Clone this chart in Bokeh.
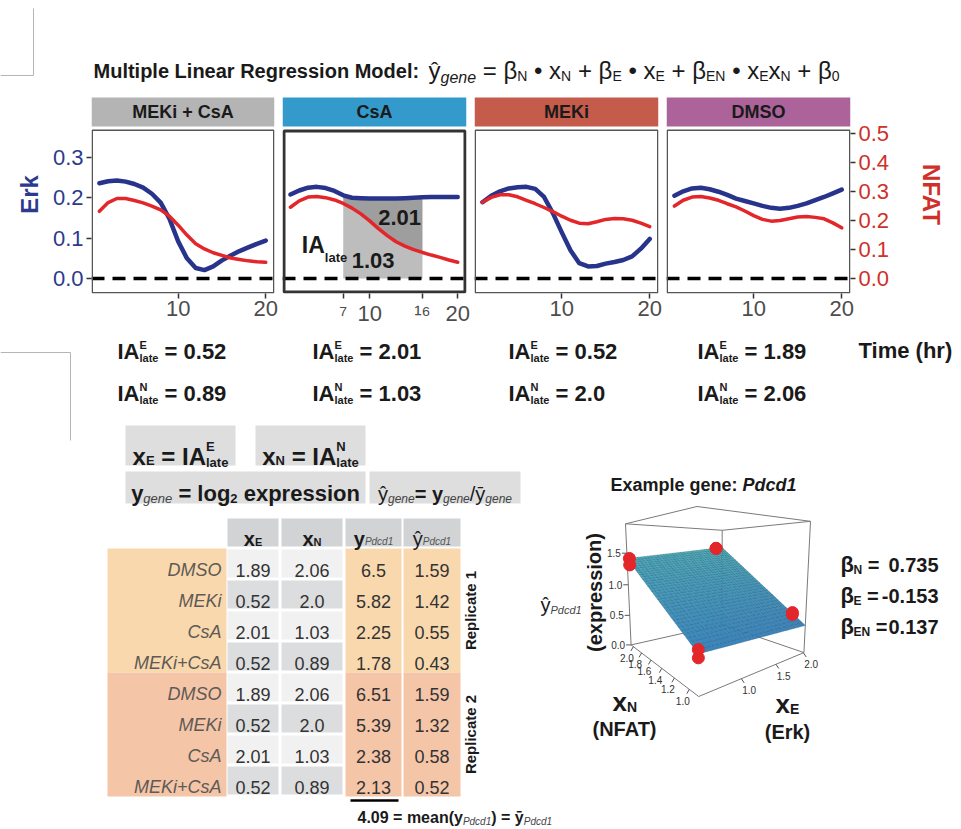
import string
import numpy as np
from bokeh.plotting import figure
from bokeh.models import (Range1d, LinearAxis, FixedTicker, PrintfTickFormatter,
                          ColumnDataSource)
from bokeh.layouts import column, row
from bokeh.embed import file_html
from bokeh.resources import INLINE
from bokeh.core.properties import value

FONT = "Liberation Sans"

# ---------------------------------------------------------------- data
CONDITIONS = ["MEKi + CsA", "CsA", "MEKi", "DMSO"]
STRIP_COLORS = ["#B4B4B4", "#3499CB", "#C55B4B", "#AB6399"]
HOURS = list(range(1, 21))
ERK_MEKI_CSA = [0.236, 0.241, 0.243, 0.240, 0.234, 0.225, 0.210, 0.188, 0.148, 0.092,
                0.050, 0.026, 0.021, 0.030, 0.045, 0.057, 0.068, 0.077, 0.086, 0.094]
NFAT_MEKI_CSA = [0.232, 0.262, 0.276, 0.276, 0.269, 0.261, 0.250, 0.237, 0.215, 0.184,
                 0.150, 0.120, 0.102, 0.089, 0.080, 0.071, 0.066, 0.061, 0.058, 0.056]
ERK_CSA = [0.208, 0.218, 0.225, 0.227, 0.224, 0.217, 0.206, 0.200, 0.199, 0.198,
           0.198, 0.198, 0.198, 0.199, 0.200, 0.201, 0.202, 0.202, 0.202, 0.202]
NFAT_CSA = [0.246, 0.268, 0.281, 0.283, 0.279, 0.271, 0.259, 0.243, 0.223, 0.199,
            0.172, 0.148, 0.127, 0.112, 0.100, 0.090, 0.081, 0.073, 0.064, 0.056]
ERK_MEKI = [0.189, 0.205, 0.216, 0.223, 0.226, 0.227, 0.222, 0.202, 0.162, 0.115,
            0.070, 0.038, 0.030, 0.031, 0.037, 0.041, 0.046, 0.055, 0.074, 0.098]
NFAT_MEKI = [0.263, 0.280, 0.289, 0.289, 0.282, 0.270, 0.258, 0.245, 0.231, 0.215,
             0.201, 0.191, 0.189, 0.196, 0.204, 0.207, 0.206, 0.201, 0.191, 0.179]
ERK_DMSO = [0.205, 0.216, 0.223, 0.225, 0.221, 0.215, 0.207, 0.198, 0.192, 0.186,
            0.180, 0.175, 0.173, 0.175, 0.180, 0.186, 0.194, 0.202, 0.211, 0.220]
NFAT_DMSO = [0.250, 0.270, 0.281, 0.283, 0.278, 0.270, 0.258, 0.247, 0.233, 0.217,
             0.204, 0.198, 0.200, 0.206, 0.212, 0.214, 0.211, 0.206, 0.192, 0.175]
ERK_SERIES = [ERK_MEKI_CSA, ERK_CSA, ERK_MEKI, ERK_DMSO]
NFAT_SERIES = [NFAT_MEKI_CSA, NFAT_CSA, NFAT_MEKI, NFAT_DMSO]
IA_E_LABELS = ["0.52", "2.01", "0.52", "1.89"]
IA_N_LABELS = ["0.89", "1.03", "2.0", "2.06"]
LATE_WINDOW = (7, 16)
LATE_WINDOW_LABELS = {7: "⁷", 16: "¹⁶"}   # small raised tick labels
HIGHLIGHT_PANEL = 1
ERK_TICKS = [0.0, 0.1, 0.2, 0.3]
NFAT_TICKS = [0.0, 0.1, 0.2, 0.3, 0.4, 0.5]
TIME_TICKS = [10, 20]
NFAT_PER_ERK = 1.393  # secondary axis scale

TABLE_CONDITIONS = ["DMSO", "MEKi", "CsA", "MEKi+CsA", "DMSO", "MEKi", "CsA", "MEKi+CsA"]
TABLE_XE = ["1.89", "0.52", "2.01", "0.52", "1.89", "0.52", "2.01", "0.52"]
TABLE_XN = ["2.06", "2.0", "1.03", "0.89", "2.06", "2.0", "1.03", "0.89"]
TABLE_Y = ["6.5", "5.82", "2.25", "1.78", "6.51", "5.39", "2.38", "2.13"]
TABLE_YHAT = ["1.59", "1.42", "0.55", "0.43", "1.59", "1.32", "0.58", "0.52"]
MEAN_Y = "4.09"
REPLICATES = ["Replicate 1", "Replicate 2"]

BETA_N, BETA_E, BETA_EN = 0.735, -0.153, 0.137
BETA_0 = -0.165  # estimated intercept (not printed in the figure)
BETA_LABELS = ["0.735", "-0.153", "0.137"]
XN_TICKS_3D = [1.0, 1.2, 1.4, 1.6, 1.8, 2.0]
XE_TICKS_3D = [1.0, 1.5, 2.0]
Z_TICKS_3D = [0.0, 0.5, 1.0, 1.5]
Z_LIM = (0.0, 1.95)

# ---------------------------------------------------------------- text metrics
def _mk(upper, lower, extra):
    d = {}
    for c, w in zip(string.ascii_uppercase, upper):
        d[c] = w
    for c, w in zip(string.ascii_lowercase, lower):
        d[c] = w
    for c in "0123456789":
        d[c] = 556
    d.update(extra)
    return d

W_REG = _mk([667, 667, 722, 722, 667, 611, 778, 722, 278, 500, 667, 556, 833, 722, 778, 667, 778, 722, 667, 611, 722, 667, 944, 667, 667, 611],
            [556, 556, 500, 556, 556, 278, 556, 556, 222, 222, 500, 222, 833, 556, 556, 556, 556, 333, 500, 278, 556, 500, 722, 500, 500, 500],
            {" ": 278, "(": 333, ")": 333, "+": 584, "-": 333, ".": 278, "/": 278, ":": 278, "=": 584,
             "β": 576, "ŷ": 500, "ȳ": 500, "•": 350})
W_BOLD = _mk([722, 722, 722, 722, 667, 611, 778, 722, 278, 556, 722, 611, 833, 722, 778, 667, 778, 722, 667, 611, 722, 667, 944, 667, 667, 611],
             [556, 611, 556, 611, 556, 333, 611, 611, 278, 278, 556, 278, 889, 611, 611, 611, 611, 389, 556, 333, 611, 556, 778, 556, 556, 500],
             {" ": 278, "(": 333, ")": 333, "+": 584, "-": 333, ".": 278, "/": 278, ":": 333, "=": 584,
              "β": 590, "ŷ": 556, "ȳ": 556, "•": 350})


def tw(s, size, bold=False):
    t = W_BOLD if bold else W_REG
    return sum(t.get(c, 556) for c in s) * size / 1000.0


class TextBag:
    def __init__(self):
        self.d = dict(x=[], y=[], text=[], size=[], style=[], color=[], angle=[], align=[], baseline=[])

    def add(self, x, y, text, size, style="normal", color="#1A1A1A", angle=0.0,
            align="left", baseline="alphabetic"):
        stripped = text.lstrip(" ")
        if align == "left" and len(stripped) < len(text):
            x += tw(text[:len(text) - len(stripped)], size, "bold" in style)
        self.d["x"].append(float(x))
        self.d["y"].append(float(y))
        self.d["text"].append(stripped.rstrip(" "))
        self.d["size"].append(f"{size}px")
        self.d["style"].append(style)
        self.d["color"].append(color)
        self.d["angle"].append(angle)
        self.d["align"].append(align)
        self.d["baseline"].append(baseline)

    def draw(self, p):
        src = ColumnDataSource(self.d)
        p.text(x="x", y="y", text="text", source=src, text_font=value(FONT),
               text_font_size="size", text_font_style="style", text_color="color",
               angle="angle", text_align="align", text_baseline="baseline")


def piece_w(pc):
    if pc[0] == "^_":
        size, style = pc[3], pc[4]
        b = "bold" in style
        return max(tw(pc[1], size, b), tw(pc[2], size, b))
    return tw(pc[0], pc[1], "bold" in pc[2])


def rich(bag, x, y, pieces, color="#1A1A1A", align="left"):
    total = sum(piece_w(pc) for pc in pieces)
    if align == "center":
        x -= total / 2
    elif align == "right":
        x -= total
    for pc in pieces:
        if pc[0] == "^_":
            _, sup, sub, size, style, dsup, dsub = pc
            bag.add(x, y + dsup, sup, size, style, color)
            bag.add(x, y + dsub, sub, size, style, color)
        else:
            c = pc[4] if len(pc) > 4 else color
            bag.add(x, y + pc[3], pc[0], pc[1], pc[2], c)
        x += piece_w(pc)
    return x


def canvas(x0, x1, y0, y1):
    p = figure(width=x1 - x0, height=y1 - y0, x_range=Range1d(x0, x1), y_range=Range1d(y1, y0),
               output_backend="svg", toolbar_location=None, x_axis_location=None,
               y_axis_location=None, min_border=0, title=None)
    p.grid.visible = False
    p.outline_line_color = None
    return p


# ---------------------------------------------------------------- layout constants
PAGE_X0, PAGE_X1 = 0, 960
PAGE_Y1 = 828
PANEL_W = [278, 192, 192, 298]
PANEL_BL = [91, 4, 4, 4]
PANEL_BR = [4, 4, 4, 110]
TOP_H = 95                 # top canvas: title
STRIP_Y = (97, 126)        # strip band (page px)
BOX_Y = (129, 293)         # panel box (page px)
PANEL_BB = 40
FRAME_H = BOX_Y[1] - TOP_H
PANEL_H = FRAME_H + PANEL_BB
X_RANGE = (0.1, 21.0)
ERK_BOX = (-0.037, 0.369)  # erk values at bottom / top of panel box
ERK_PER_PX = (ERK_BOX[1] - ERK_BOX[0]) / (BOX_Y[1] - BOX_Y[0])


def erk_at(py):
    return ERK_BOX[0] + (BOX_Y[1] - py) * ERK_PER_PX


ERK_RANGE = (ERK_BOX[0], erk_at(TOP_H))
NAVY = "#2C3A8E"
BLUE_LINE = "#28348C"
RED_LINE = "#E3262A"
RED_TXT = "#D0302A"
GRAY_TXT = "#4D4D4D"

# ---------------------------------------------------------------- top canvas
top = canvas(PAGE_X0, PAGE_X1, 0, TOP_H)
tb = TextBag()
top.line(x=[0, 33, 33], y=[75, 75, 8], line_color="#B5B5B5", line_width=1)
tb.add(93, 70, "Multiple Linear Regression Model:", 20, "bold", "#1A1A1A")
S, s = 24, 14
rich(tb, 428, 70, [("ŷ", S, "normal", 0), ("gene", 16, "italic", 7),
                   (" = β", S, "normal", 0), ("N", s, "normal", 5),
                   (" • x", S, "normal", 0), ("N", s, "normal", 5),
                   (" + β", S, "normal", 0), ("E", s, "normal", 5),
                   (" • x", S, "normal", 0), ("E", s, "normal", 5),
                   (" + β", S, "normal", 0), ("EN", s, "normal", 5),
                   (" • x", S, "normal", 0), ("E", s, "normal", 5),
                   ("x", S, "normal", 0), ("N", s, "normal", 5),
                   (" + β", S, "normal", 0), ("0", s, "normal", 5)], color="#1A1A1A")
tb.draw(top)

# ---------------------------------------------------------------- panels
panels = []
nfat_range = (ERK_RANGE[0] * NFAT_PER_ERK, ERK_RANGE[1] * NFAT_PER_ERK)
for i in range(4):
    fw = PANEL_W[i] - PANEL_BL[i] - PANEL_BR[i]
    dxp = (X_RANGE[1] - X_RANGE[0]) / fw
    dyp = ERK_PER_PX
    p = figure(width=PANEL_W[i], height=PANEL_H, x_range=Range1d(*X_RANGE),
               y_range=Range1d(*ERK_RANGE), output_backend="svg", toolbar_location=None,
               min_border_left=PANEL_BL[i], min_border_right=PANEL_BR[i],
               min_border_top=0, min_border_bottom=PANEL_BB, title=None,
               x_axis_location="below", y_axis_location=("left" if i == 0 else None))
    p.extra_y_ranges = {"nfat": Range1d(*nfat_range)}
    p.grid.visible = False
    p.background_fill_color = "white"
    p.outline_line_color = None

    # facet strip
    p.quad(left=[X_RANGE[0]], right=[X_RANGE[1]], bottom=[erk_at(STRIP_Y[1])], top=[erk_at(STRIP_Y[0])],
           fill_color=STRIP_COLORS[i], line_color=None)
    p.text(x=[(X_RANGE[0] + X_RANGE[1]) / 2], y=[erk_at(sum(STRIP_Y) / 2)], text=[CONDITIONS[i]],
           text_font=value(FONT), text_font_size="18px", text_font_style="bold",
           text_color="#1A1A1A", text_align="center", text_baseline="middle")

    xa = p.xaxis[0]
    ticks = TIME_TICKS if i != HIGHLIGHT_PANEL else sorted(TIME_TICKS + list(LATE_WINDOW))
    xa.ticker = FixedTicker(ticks=ticks, minor_ticks=[])
    if i == HIGHLIGHT_PANEL:
        xa.major_label_overrides = dict(LATE_WINDOW_LABELS)
    xa.major_label_text_font = FONT
    xa.major_label_text_font_size = "22px"
    xa.major_label_text_color = GRAY_TXT
    xa.major_tick_out = 5
    xa.major_tick_in = 0
    xa.major_tick_line_color = "#333333"
    xa.major_tick_line_width = 1.5
    xa.axis_line_color = None
    xa.major_label_standoff = 2

    if i == 0:
        ya = p.yaxis[0]
        ya.ticker = FixedTicker(ticks=ERK_TICKS, minor_ticks=[])
        ya.formatter = PrintfTickFormatter(format="%.1f")
        ya.major_label_text_font = FONT
        ya.major_label_text_font_size = "22px"
        ya.major_label_text_color = NAVY
        ya.axis_label = "Erk"
        ya.axis_label_text_font = FONT
        ya.axis_label_text_font_size = "24px"
        ya.axis_label_text_font_style = "bold"
        ya.axis_label_text_color = NAVY
        ya.axis_label_standoff = 7
        ya.major_tick_out = 5
        ya.major_tick_in = 0
        ya.major_tick_line_color = "#333333"
        ya.major_tick_line_width = 1.5
        ya.axis_line_color = None
        ya.major_label_standoff = 3
    if i == 3:
        ra = LinearAxis(y_range_name="nfat", ticker=FixedTicker(ticks=NFAT_TICKS, minor_ticks=[]),
                        formatter=PrintfTickFormatter(format="%.1f"))
        ra.major_label_text_font = FONT
        ra.major_label_text_font_size = "22px"
        ra.major_label_text_color = RED_TXT
        ra.axis_label = "NFAT"
        ra.axis_label_text_font = FONT
        ra.axis_label_text_font_size = "24px"
        ra.axis_label_text_font_style = "bold"
        ra.axis_label_text_color = RED_TXT
        ra.axis_label_standoff = 26
        ra.major_tick_out = 5
        ra.major_tick_in = 0
        ra.major_tick_line_color = "#333333"
        ra.major_tick_line_width = 1.5
        ra.axis_line_color = None
        ra.major_label_standoff = 3
        p.add_layout(ra, "right")

    erk = ERK_SERIES[i]
    nfat = NFAT_SERIES[i]
    if i == HIGHLIGHT_PANEL:
        sel = [k for k, h in enumerate(HOURS) if LATE_WINDOW[0] <= h <= LATE_WINDOW[1]]
        hx = [HOURS[k] for k in sel]
        red_on_erk = [nfat[k] / NFAT_PER_ERK for k in sel]
        p.varea(x=hx, y1=[0.0] * len(hx), y2=red_on_erk, fill_color="#BDBDBD")
        p.varea(x=hx, y1=red_on_erk, y2=[erk[k] for k in sel], fill_color="#9E9E9E")
    # dashed zero line across the panel box
    p.line(x=[X_RANGE[0], X_RANGE[1]], y=[0, 0], line_color="black", line_width=3.5, line_dash="13 8")
    p.line(HOURS, erk, line_color=BLUE_LINE, line_width=4.5, line_join="round", line_cap="round")
    p.line(HOURS, nfat, y_range_name="nfat", line_color=RED_LINE, line_width=3.5,
           line_join="round", line_cap="round")
    if i == HIGHLIGHT_PANEL:
        p.text(x=[13.4, 10.4], y=[0.152, 0.045], text=[IA_E_LABELS[i], IA_N_LABELS[i]],
               text_font=value(FONT), text_font_size="22px", text_font_style="bold",
               text_color="#1A1A1A", text_align="center", text_baseline="middle")
        p.text(x=[2.3], y=[0.082], text=["IA"], text_font=value(FONT), text_font_size="23px",
               text_font_style="bold", text_color="#1A1A1A", text_baseline="middle")
        p.text(x=[2.3 + tw("IA", 23, True) * dxp], y=[0.082 - 12 * dyp], text=["late"],
               text_font=value(FONT), text_font_size="13px", text_font_style="bold",
               text_color="#1A1A1A", text_baseline="middle")
    # panel border, inset by half the line width so it is not clipped
    lw = 3.0 if i == HIGHLIGHT_PANEL else 1.5
    p.quad(left=[X_RANGE[0] + lw / 2 * dxp], right=[X_RANGE[1] - lw / 2 * dxp],
           bottom=[ERK_BOX[0] + lw / 2 * dyp], top=[ERK_BOX[1] - lw / 2 * dyp],
           fill_color=None, line_color="#333333" if i == HIGHLIGHT_PANEL else "#555555", line_width=lw)
    panels.append(p)

# ---------------------------------------------------------------- bottom canvas
B_Y0 = TOP_H + PANEL_H
bot = canvas(PAGE_X0, PAGE_X1, B_Y0, PAGE_Y1)
bb = TextBag()
bot.line(x=[0, 70, 70], y=[352, 352, 440], line_color="#B5B5B5", line_width=1)

# IA rows
IA_COLS = [117, 312, 508, 697]
for xc, e_lab, n_lab in zip(IA_COLS, IA_E_LABELS, IA_N_LABELS):
    for yb, sup, lab in ((351, "E", e_lab), (393, "N", n_lab)):
        rich(bb, xc, yb, [("IA", 22, "bold", 0), ("^_", sup, "late", 11, "bold", -7, 6),
                          (" = " + lab, 22, "bold", 0)])
bb.add(858, 350, "Time (hr)", 22, "bold", "#1A1A1A")

# definition boxes
BOX_FILL = "#DEDEDE"
bot.quad(left=[125, 255, 125, 369], right=[235, 365, 365, 520],
         top=[425, 425, 471, 471], bottom=[465, 465, 503, 503], fill_color=BOX_FILL, line_color=None)
rich(bb, 180, 456, [("x", 24, "bold", 0), ("E", 13, "bold", 4), (" = IA", 24, "bold", 0),
                    ("^_", "E", "late", 13, "bold", -10, 6)], align="center")
rich(bb, 310, 456, [("x", 24, "bold", 0), ("N", 13, "bold", 4), (" = IA", 24, "bold", 0),
                    ("^_", "N", "late", 13, "bold", -10, 6)], align="center")
rich(bb, 245, 493, [("y", 22, "bold", 0), ("gene", 13, "italic", 5, "#444444"),
                    (" = log", 22, "bold", 0), ("2", 13, "bold", 5), (" expression", 22, "bold", 0)],
     align="center")
rich(bb, 444.5, 493, [("ŷ", 20, "normal", 0), ("gene", 12, "italic", 5, "#444444"),
                      ("= y", 20, "bold", 0), ("gene", 12, "italic", 5, "#444444"),
                      ("/ȳ", 20, "normal", 0), ("gene", 12, "italic", 5, "#444444")],
     align="center")

# table
COLS = [(227, 278), (281, 342), (345, 401), (403, 460)]
HEADER_FILL = "#D1D3D4"
REP_FILLS = ["#F9D8AE", "#F5C5A8"]
CELL_LIGHT, CELL_DARK = "#F1F1F1", "#DCDDDE"
ROW_TOP0, ROW_PITCH, CELL_H = 549.0, 31.0, 28.0
LABEL_BLOCK = (107, 226)
n_rows = len(TABLE_CONDITIONS)
rep_rows = n_rows // len(REPLICATES)
rep_bounds = [ROW_TOP0 - 1 + r * rep_rows * ROW_PITCH for r in range(len(REPLICATES) + 1)]
bot.quad(left=[a for a, b in COLS], right=[b for a, b in COLS], top=[518] * 4, bottom=[546] * 4,
         fill_color=HEADER_FILL, line_color=None)
for r in range(len(REPLICATES)):
    bot.quad(left=[LABEL_BLOCK[0], COLS[2][0], COLS[3][0]], right=[LABEL_BLOCK[1], COLS[2][1], COLS[3][1]],
             top=[rep_bounds[r]] * 3, bottom=[rep_bounds[r + 1]] * 3,
             fill_color=REP_FILLS[r], line_color=None)
tops = [ROW_TOP0 + k * ROW_PITCH for k in range(n_rows)]
bot.quad(left=[COLS[0][0]] * n_rows + [COLS[1][0]] * n_rows,
         right=[COLS[0][1]] * n_rows + [COLS[1][1]] * n_rows,
         top=tops * 2, bottom=[t + CELL_H for t in tops] * 2,
         fill_color=[CELL_LIGHT if k % 2 == 0 else CELL_DARK for k in range(n_rows)] * 2,
         line_color=None)
for k in range(n_rows):
    yb = tops[k] + CELL_H / 2 + 6.5
    bb.add(LABEL_BLOCK[1] - 5, yb, TABLE_CONDITIONS[k], 18, "italic", "#5E5A55", align="right")
    for (a, b), vals in zip(COLS, (TABLE_XE, TABLE_XN, TABLE_Y, TABLE_YHAT)):
        bb.add((a + b) / 2, yb, vals[k], 18, "normal", "#333333", align="center")
hdr_y = 538
rich(bb, sum(COLS[0]) / 2, hdr_y, [("x", 20, "bold", 0), ("E", 11, "bold", 3)], align="center")
rich(bb, sum(COLS[1]) / 2, hdr_y, [("x", 20, "bold", 0), ("N", 11, "bold", 3)], align="center")
rich(bb, sum(COLS[2]) / 2, hdr_y, [("y", 20, "bold", 0), ("Pdcd1", 10, "italic", 3, "#555555")], align="center")
rich(bb, sum(COLS[3]) / 2, hdr_y, [("ŷ", 20, "normal", 0), ("Pdcd1", 10, "italic", 3, "#555555")], align="center")
for r, name in enumerate(REPLICATES):
    bb.add(470, (rep_bounds[r] + rep_bounds[r + 1]) / 2, name, 15, "bold", "#1A1A1A",
           angle=np.pi / 2, align="center", baseline="middle")
bot.line(x=[COLS[2][0] + 5, COLS[2][1] - 3], y=[800, 800], line_color="black", line_width=2.5)
rich(bb, 357, 817, [(MEAN_Y + " = mean(y", 16, "bold", 0), ("Pdcd1", 10, "italic", 4, "#444444"),
                    (") = ȳ", 16, "bold", 0), ("Pdcd1", 10, "italic", 4, "#444444")])

# ---------------------------------------------------------------- 3D regression plot
xe_v = np.array([float(v) for v in TABLE_XE])
xn_v = np.array([float(v) for v in TABLE_XN])
yh_v = np.array([float(v) for v in TABLE_YHAT])
XE_LIM = (xe_v.min(), xe_v.max())
XN_LIM = (xn_v.min(), xn_v.max())


def to_unit(xe, xn, z):
    u = 2 * (np.asarray(xe, float) - XE_LIM[0]) / (XE_LIM[1] - XE_LIM[0]) - 1
    v = 2 * (np.asarray(xn, float) - XN_LIM[0]) / (XN_LIM[1] - XN_LIM[0]) - 1
    w = 2 * (np.asarray(z, float) - Z_LIM[0]) / (Z_LIM[1] - Z_LIM[0]) - 1
    return u, v, w


AZ, EL, DIST = np.deg2rad(231.8), np.deg2rad(7.9), 4.06
eye = DIST * np.array([np.cos(EL) * np.cos(AZ), np.cos(EL) * np.sin(AZ), np.sin(EL)])
fwd = -eye / np.linalg.norm(eye)
right = np.cross(fwd, [0.0, 0.0, 1.0])
right /= np.linalg.norm(right)
up = np.cross(right, fwd)


def cam(u, v, w):
    P = np.stack(np.broadcast_arrays(np.asarray(u, float), np.asarray(v, float),
                                     np.asarray(w, float)), axis=-1) - eye
    d = P @ fwd
    return (P @ right) / d, (P @ up) / d


corners = np.array([[a, b, c] for a in (-1, 1) for b in (-1, 1) for c in (-1, 1)], float)
csx, csy = cam(corners[:, 0], corners[:, 1], corners[:, 2])
BOX3D = (625, 810, 505, 697)
s3 = min((BOX3D[1] - BOX3D[0]) / (csx.max() - csx.min()), (BOX3D[3] - BOX3D[2]) / (csy.max() - csy.min()))
cx0 = (BOX3D[0] + BOX3D[1]) / 2 - s3 * (csx.max() + csx.min()) / 2
cy0 = (BOX3D[2] + BOX3D[3]) / 2 + s3 * (csy.max() + csy.min()) / 2


def scr(u, v, w):
    sx, sy = cam(u, v, w)
    return cx0 + s3 * sx, cy0 - s3 * sy


def edge_lines(edges):
    xs, ys = [], []
    for a, b in edges:
        pa = scr(*a)
        pb = scr(*b)
        xs.append([float(pa[0]), float(pb[0])])
        ys.append([float(pa[1]), float(pb[1])])
    return xs, ys


BOX_COL = "#7A7A7A"
back_edges = [((1, 1, -1), (1, 1, 1)), ((-1, 1, -1), (1, 1, -1)), ((1, -1, -1), (1, 1, -1))]
front_edges = [((-1, -1, 1), (1, -1, 1)), ((1, -1, 1), (1, 1, 1)), ((1, 1, 1), (-1, 1, 1)),
               ((-1, 1, 1), (-1, -1, 1)), ((-1, 1, -1), (-1, 1, 1)), ((1, -1, -1), (1, -1, 1)),
               ((-1, 1, -1), (-1, -1, -1)), ((-1, -1, -1), (1, -1, -1))]
xs, ys = edge_lines(back_edges)
bot.multi_line(xs, ys, line_color=BOX_COL, line_width=1)

NG = 34
g = np.linspace(-1, 1, NG + 1)
U, V = np.meshgrid(g, g, indexing="ij")
XEg = XE_LIM[0] + (U + 1) / 2 * (XE_LIM[1] - XE_LIM[0])
XNg = XN_LIM[0] + (V + 1) / 2 * (XN_LIM[1] - XN_LIM[0])
Zg = BETA_0 + BETA_N * XNg + BETA_E * XEg + BETA_EN * XEg * XNg
Wg = 2 * (Zg - Z_LIM[0]) / (Z_LIM[1] - Z_LIM[0]) - 1
SX, SY = scr(U, V, Wg)
lo_c = np.array([0x38, 0x84, 0xBF], float)
hi_c = np.array([0x4F, 0xBA, 0xC0], float)
zmin, zmax = Zg.min(), Zg.max()
pxs, pys, pcols = [], [], []
for i in range(NG):
    for j in range(NG):
        pxs.append([SX[i, j], SX[i + 1, j], SX[i + 1, j + 1], SX[i, j + 1]])
        pys.append([SY[i, j], SY[i + 1, j], SY[i + 1, j + 1], SY[i, j + 1]])
        t = (Zg[i:i + 2, j:j + 2].mean() - zmin) / (zmax - zmin)
        c = (lo_c + (hi_c - lo_c) * t).astype(int)
        pcols.append("#%02x%02x%02x" % tuple(c))
bot.patches(pxs, pys, fill_color=pcols, line_color="#1F4E6A", line_width=0.5, line_alpha=0.55)

xs, ys = edge_lines(front_edges)
bot.multi_line(xs, ys, line_color=BOX_COL, line_width=1)

pu, pv, pw = to_unit(xe_v, xn_v, yh_v)
px_, py_ = scr(pu, pv, pw)
bot.scatter(px_, py_, size=12, fill_color="#E3262A", line_color="#E3262A")

TICK_COL = "#555555"
tkx, tky = [], []
XN_DIR = np.array([-0.5, 0.866])   # screen direction of xN tick marks / labels
XE_DIR = np.array([0.55, 0.835])   # screen direction of xE tick marks / labels
for t in XN_TICKS_3D:
    _, v, _ = to_unit(XE_LIM[0], t, 0)
    ax_, ay_ = (float(c) for c in scr(-1, v, -1))
    tkx.append([ax_, ax_ + 5 * XN_DIR[0]])
    tky.append([ay_, ay_ + 5 * XN_DIR[1]])
    bb.add(ax_ + 13 * XN_DIR[0], ay_ + 13 * XN_DIR[1], f"{t:.1f}", 10, "normal", "#333333",
           align="center", baseline="middle")
for t in XE_TICKS_3D:
    u, _, _ = to_unit(t, XN_LIM[0], 0)
    ax_, ay_ = (float(c) for c in scr(u, -1, -1))
    tkx.append([ax_, ax_ + 5 * XE_DIR[0]])
    tky.append([ay_, ay_ + 5 * XE_DIR[1]])
    bb.add(ax_ + 14 * XE_DIR[0], ay_ + 14 * XE_DIR[1], f"{t:.1f}", 10, "normal", "#333333",
           align="center", baseline="middle")
for t in Z_TICKS_3D:
    _, _, w = to_unit(XE_LIM[0], XN_LIM[1], t)
    ax_, ay_ = (float(c) for c in scr(-1, 1, w))
    tkx.append([ax_, ax_ - 5])
    tky.append([ay_, ay_])
    bb.add(ax_ - 6, ay_, f"{t:.1f}", 10, "normal", "#333333", align="right", baseline="middle")
bot.multi_line(tkx, tky, line_color=TICK_COL, line_width=1)

rich(bb, 610, 484, [("Example gene: ", 18, "bold", 0), ("Pdcd1", 18, "bold italic", 0)])
bb.add(594, 592, "(expression)", 20, "bold", "#1A1A1A", angle=np.pi / 2, align="center", baseline="middle")
rich(bb, 540, 604, [("ŷ", 20, "normal", 0), ("Pdcd1", 11, "italic", 5, "#444444")])
rich(bb, 612, 701, [("x", 26, "bold", 0), ("N", 14, "bold", 5)])
bb.add(624, 728, "(NFAT)", 20, "bold", "#1A1A1A", align="center")
rich(bb, 775, 703, [("x", 26, "bold", 0), ("E", 14, "bold", 5)])
bb.add(787, 731, "(Erk)", 20, "bold", "#1A1A1A", align="center")

for k, (sub, lab) in enumerate(zip(["N", "E", "EN"], BETA_LABELS)):
    yb = 564 + k * 31
    rich(bb, 840, yb, [("β", 22, "bold", 0), (sub, 12, "bold", 5), (" =", 20, "bold", 0)])
    xv = 888 - (tw("-", 20, True) if lab.startswith("-") else 0)
    bb.add(xv, yb, lab, 20, "bold", "#1A1A1A")

bb.draw(bot)

layout = column(top, row(*panels, spacing=0), bot, spacing=0)
with open("out.html", "w") as f:
    f.write(file_html(layout, INLINE))
